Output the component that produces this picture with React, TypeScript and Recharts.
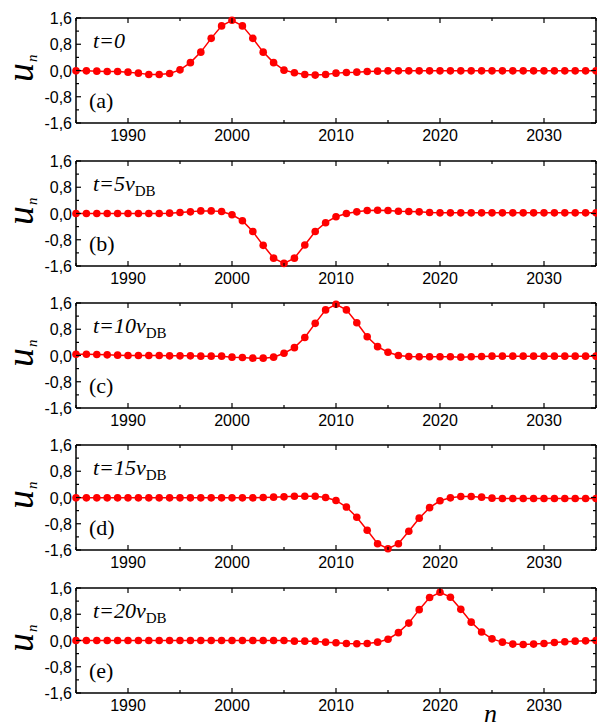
import { LineChart, Line, XAxis, YAxis, ReferenceLine } from 'recharts'

// lattice sites
const sites = Array.from({ length: 51 }, (_, i) => 1985 + i)

// displacement u_n at the five moments
const u0 = [
  -0.01, -0.01, -0.02, -0.03, -0.03, -0.05, -0.08, -0.12, -0.12, -0.09,
  0.02, 0.24, 0.56, 0.98, 1.36, 1.53, 1.36, 0.98, 0.56, 0.24,
  0.01, -0.07, -0.12, -0.14, -0.12, -0.08, -0.06, -0.05, -0.03, -0.02,
  -0.01, -0.01, -0.01, -0.01, -0.01, -0.01, -0.01, -0.01, -0.01, -0.01,
  -0.01, -0.01, -0.01, -0.01, -0.01, -0.01, -0.01, -0.01, -0.01, -0.01, -0.01
]
const u5 = [
  0.0, 0.0, 0.0, 0.0, 0.0, 0.0, 0.0, 0.0, 0.0, 0.01,
  0.03, 0.05, 0.08, 0.08, 0.06, -0.04, -0.22, -0.55, -0.97, -1.36,
  -1.52, -1.36, -0.96, -0.55, -0.28, -0.1, 0.0, 0.05, 0.09, 0.1,
  0.09, 0.07, 0.06, 0.05, 0.03, 0.02, 0.02, 0.02, 0.02, 0.02,
  0.02, 0.02, 0.02, 0.02, 0.02, 0.02, 0.02, 0.02, 0.02, 0.02, 0.02
]
const u10 = [
  0.04, 0.04, 0.03, 0.02, 0.01, 0.0, 0.0, 0.0, 0.0, -0.01,
  -0.01, -0.01, -0.02, -0.02, -0.02, -0.05, -0.06, -0.08, -0.08, -0.05,
  0.07, 0.24, 0.55, 0.98, 1.39, 1.56, 1.39, 1.0, 0.57, 0.27,
  0.1, 0.0, -0.03, -0.04, -0.04, -0.04, -0.04, -0.05, -0.04, -0.03,
  -0.02, -0.02, -0.02, -0.02, -0.02, -0.02, -0.02, -0.02, -0.02, -0.02, -0.02
]
const u15 = [
  -0.01, -0.01, -0.01, -0.01, -0.01, -0.01, -0.01, -0.01, -0.01, -0.01,
  -0.01, -0.01, -0.01, -0.01, -0.01, -0.01, -0.01, -0.01, 0.0, 0.01,
  0.02, 0.04, 0.04, 0.04, 0.0, -0.09, -0.29, -0.6, -1.0, -1.41,
  -1.56, -1.41, -1.03, -0.63, -0.31, -0.1, -0.01, 0.03, 0.03, 0.01,
  -0.02, -0.03, -0.03, -0.03, -0.03, -0.03, -0.03, -0.03, -0.03, -0.03, -0.03
]
const u20 = [
  0.0, 0.0, 0.0, 0.0, 0.0, 0.0, 0.0, 0.0, 0.0, 0.0,
  0.0, 0.0, 0.0, 0.0, 0.0, 0.0, 0.0, 0.0, 0.0, 0.0,
  0.0, -0.02, -0.02, -0.02, -0.05, -0.07, -0.09, -0.1, -0.09, -0.05,
  0.04, 0.24, 0.53, 0.94, 1.31, 1.47, 1.32, 0.95, 0.56, 0.26,
  0.05, -0.05, -0.11, -0.12, -0.11, -0.09, -0.06, -0.04, -0.02, -0.01, 0.0
]

const series = [u0, u5, u10, u15, u20]
const times = ['0', '5', '10', '15', '20']
const letters = ['a', 'b', 'c', 'd', 'e']

const xTicks = [1985, 1990, 1995, 2000, 2005, 2010, 2015, 2020, 2025, 2030, 2035]
const yTicks = [-1.6, -1.2, -0.8, -0.4, 0, 0.4, 0.8, 1.2, 1.6]

const plotTops = [18, 161, 303, 445, 588]
const PLOT_W = 520
const PLOT_H = 105
const TOP_PAD = 10
const SANS = 'Liberation Sans, Arial, sans-serif'
const SERIF = 'Liberation Serif, Times New Roman, serif'

const XTick = (props: any) => {
  const { x, y, payload } = props
  const major = payload.value % 10 === 0
  const len = major ? 5 : 3
  return (
    <g>
      <line x1={x} y1={y} x2={x} y2={y - len} stroke='#000' strokeWidth={1.2} />
      <line x1={x} y1={y - PLOT_H} x2={x} y2={y - PLOT_H + len} stroke='#000' strokeWidth={1.2} />
      {major && payload.value > 1985 && payload.value < 2035 && (
        <text x={x} y={y + 18} textAnchor='middle' fontFamily={SANS} fontSize={16} fill='#000'>
          {payload.value}
        </text>
      )}
    </g>
  )
}

const YTick = (props: any) => {
  const { x, y, payload } = props
  const v = payload.value
  const major = Math.abs(Math.round(v / 0.8) * 0.8 - v) < 1e-6
  const len = major ? 5 : 3
  return (
    <g>
      <line x1={x} y1={y} x2={x + len} y2={y} stroke='#000' strokeWidth={1.2} />
      <line x1={x + PLOT_W} y1={y} x2={x + PLOT_W - len} y2={y} stroke='#000' strokeWidth={1.2} />
      {major && (
        <text x={x - 4} y={y + 6} textAnchor='end' fontFamily={SANS} fontSize={16} fill='#000'>
          {v.toFixed(1).replace('.', ',')}
        </text>
      )}
    </g>
  )
}

const Panel = ({ values }: { values: number[] }) => {
  const data = sites.map((n, i) => ({ n, u: values[i] }))
  return (
    <LineChart
      width={597}
      height={PLOT_H + TOP_PAD + 30}
      data={data}
      margin={{ top: TOP_PAD, right: 1, bottom: 0, left: 0 }}
    >
      <XAxis
        dataKey='n'
        type='number'
        domain={[1985, 2035]}
        ticks={xTicks}
        interval={0}
        tickLine={false}
        tickSize={0}
        tickMargin={0}
        height={30}
        axisLine={{ stroke: '#000', strokeWidth: 1.5 }}
        tick={<XTick />}
      />
      <YAxis
        type='number'
        domain={[-1.6, 1.6]}
        ticks={yTicks}
        interval={0}
        tickLine={false}
        tickSize={0}
        tickMargin={0}
        width={76}
        axisLine={{ stroke: '#000', strokeWidth: 1.5 }}
        tick={<YTick />}
      />
      <Line
        type='linear'
        dataKey='u'
        stroke='#ff0000'
        strokeWidth={1.5}
        dot={{ r: 3.8, fill: '#ff0000', stroke: 'none' }}
        isAnimationActive={false}
      />
      <ReferenceLine y={1.6} stroke='#000' strokeWidth={1.5} ifOverflow='visible' />
      <ReferenceLine x={2035} stroke='#000' strokeWidth={1.5} ifOverflow='visible' />
    </LineChart>
  )
}

export default function App() {
  return (
    <div style={{ position: 'absolute', left: 0, top: 0, width: 597, height: 728, background: '#fff' }}>
      {series.map((values, i) => (
        <div key={i} style={{ position: 'absolute', left: 0, top: plotTops[i] - TOP_PAD }}>
          <Panel values={values} />
        </div>
      ))}
      <svg
        width={597}
        height={728}
        style={{ position: 'absolute', left: 0, top: 0, pointerEvents: 'none' }}
      >
        {plotTops.map((top, i) => (
          <g key={i}>
            <text transform={`translate(33, ${top + 64}) rotate(-90)`} fontFamily={SERIF} fill='#000'>
              <tspan fontSize={38} fontStyle='italic'>u</tspan>
              <tspan fontSize={15} fontStyle='italic' dy={4} dx={1}>n</tspan>
            </text>
            <text x={93} y={top + 30} fontFamily={SERIF} fontSize={22} fill='#000'>
              <tspan fontStyle='italic'>{`t=${times[i]}`}</tspan>
              {i > 0 && <tspan fontStyle='italic'>v</tspan>}
              {i > 0 && <tspan fontSize={15} dy={5}>DB</tspan>}
            </text>
            <text x={89} y={top + 90} fontFamily={SERIF} fontSize={22} fill='#000'>
              {`(${letters[i]})`}
            </text>
          </g>
        ))}
        <text x={484} y={722} fontFamily={SERIF} fontSize={26} fontStyle='italic' fill='#000'>
          n
        </text>
      </svg>
    </div>
  )
}
